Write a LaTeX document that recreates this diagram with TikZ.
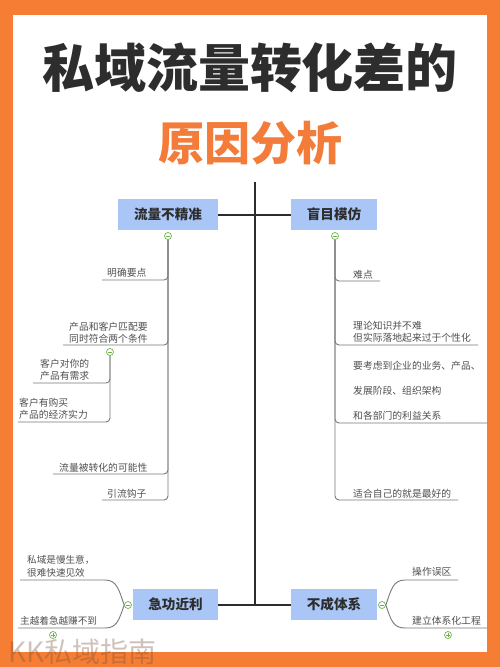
\documentclass[tikz,border=0pt]{standalone}
\usepackage{fontspec}
\newfontfamily\cjk{Noto Sans CJK SC}
\definecolor{frame}{RGB}{245,126,52}
\definecolor{sub}{RGB}{244,124,58}
\definecolor{titlec}{RGB}{45,45,45}
\definecolor{boxblue}{RGB}{170,198,246}
\definecolor{txt}{RGB}{80,80,80}
\definecolor{brc}{RGB}{120,120,120}
\definecolor{gc}{RGB}{110,180,70}
\definecolor{wm}{RGB}{120,80,60}
\tikzset{
  mainline/.style={draw=titlec, line width=2pt},
  br/.style={draw=brc, line width=0.9pt},
  brr/.style={br, rounded corners=4pt},
  topic/.style={fill=boxblue, minimum height=31pt, inner sep=0pt,
    font=\cjk\bfseries\fontsize{13.6}{14}\selectfont, text=titlec},
  item/.style={font=\cjk\fontsize{9.8}{12}\selectfont, text=txt, inner sep=0pt,
    align=left, anchor=south west},
  knob/.style={circle, draw=gc, fill=white, minimum size=7pt, inner sep=0pt, line width=0.7pt},
  minusc/.style={knob, path picture={\draw[gc, line width=0.7pt]
    ([xshift=-2pt]path picture bounding box.center) -- ([xshift=2pt]path picture bounding box.center);}},
  plusc/.style={knob, path picture={\draw[gc, line width=0.7pt]
    ([xshift=-2pt]path picture bounding box.center) -- ([xshift=2pt]path picture bounding box.center)
    ([yshift=-2pt]path picture bounding box.center) -- ([yshift=2pt]path picture bounding box.center);}}
}
\begin{document}
\begin{tikzpicture}[x=1pt,y=-1pt]
\useasboundingbox (0,0) rectangle (500,667);
\fill[frame] (0,0) rectangle (500,667);
\fill[white] (13,15) rectangle (487,652);

% titles
\node[font=\cjk\bfseries\fontsize{52}{52}\selectfont, text=titlec] (title) at (250,68) {私域流量转化差的};
\node[font=\cjk\bfseries\fontsize{46}{46}\selectfont, text=sub] (subtitle) at (250,143) {原因分析};

% spine
\coordinate (sTop) at (255,182);
\coordinate (sBot) at (255,605);
\draw[mainline] (sTop) -- (sBot);

% topics
\node[topic, minimum width=100pt] (A) at (168,214.5) {流量不精准};
\node[topic, minimum width=86pt] (B) at (334,214.5) {盲目模仿};
\node[topic, minimum width=85pt] (C) at (175.5,604.5) {急功近利};
\node[topic, minimum width=86pt] (D) at (334,604.5) {不成体系};
\draw[mainline] (A.east) -- (B.west);
\draw[mainline] (C.east) -- (D.west);

% left upper branch
\node[minusc] (cL) at (168,236) {};
\coordinate (e1) at (102,280);
\coordinate (e2) at (63,345);
\coordinate (e3) at (33,383);
\coordinate (e4) at (18,422);
\coordinate (e5) at (53,474);
\coordinate (e6) at (102,500);
\draw[brr] (cL.south) |- (e6);
\draw[brr] (cL.south) |- (e5);
\draw[brr] (cL.south) |- (e2);
\draw[brr] (cL.south) |- (e1);
\node[minusc] (cS) at (110,352) {};
\draw[brr] (cS.south) |- (e4);
\draw[brr] (cS.south) |- (e3);
\node[item] (t1) at (107,278) {明确要点};
\node[item] (t2) at (69,343) {产品和客户匹配要\\同时符合两个条件};
\node[item] (t3) at (40,381) {客户对你的\\产品有需求};
\node[item] (t4) at (19,420) {客户有购买\\产品的经济实力};
\node[item] (t5) at (59,472) {流量被转化的可能性};
\node[item] (t6) at (107,498) {引流钩子};

% right upper branch
\node[minusc] (cR) at (335,236) {};
\coordinate (f1) at (380,281);
\coordinate (f2) at (478,345);
\coordinate (f3) at (487,423);
\coordinate (f4) at (458,500);
\draw[brr] (cR.south) |- (f4);
\draw[brr] (cR.south) |- (f3);
\draw[brr] (cR.south) |- (f2);
\draw[brr] (cR.south) |- (f1);
\node[item] (u1) at (353,279) {难点};
\node[item] (u2) at (353,343) {理论知识并不难\\但实际落地起来过于个性化};
\node[item, font=\cjk\fontsize{9.8}{25}\selectfont] (u3) at (353,421) {要考虑到企业的业务、产品、\\发展阶段、组织架构\\和各部门的利益关系};
\node[item] (u4) at (353,498) {适合自己的就是最好的};

% bottom left branch
\node[minusc] (cBL) at (128,605) {};
\coordinate (g1) at (20,580);
\coordinate (g2) at (18,628);
\draw[br] (cBL.west) .. controls (119,590) and (117,580) .. (105,580) -- (g1);
\draw[br] (cBL.west) .. controls (119,620) and (117,628) .. (105,628) -- (g2);
\node[item, font=\cjk\fontsize{9.6}{13}\selectfont] (v1) at (27,577) {私域是慢生意，\\很难快速见效};
\node[item, font=\cjk\fontsize{9.6}{13}\selectfont] (v2) at (20,625) {主越着急越赚不到};
\node[plusc] (pBL) at (53,635) {};

% bottom right branch
\node[minusc] (cBR) at (382,605) {};
\coordinate (g3) at (458,580);
\coordinate (g4) at (487,628);
\draw[br] (cBR.east) .. controls (391,590) and (393,580) .. (405,580) -- (g3);
\draw[br] (cBR.east) .. controls (391,620) and (393,628) .. (405,628) -- (g4);
\node[item] (w1) at (412,577) {操作误区};
\node[item] (w2) at (412,625) {建立体系化工程};
\node[plusc] (pBR) at (448,635) {};

% watermark
\node[anchor=west, inner sep=0pt, font=\cjk\fontsize{28}{28}\selectfont, text=wm, text opacity=0.35] (wmk) at (8,652) {KK私域指南};
\end{tikzpicture}
\end{document}
